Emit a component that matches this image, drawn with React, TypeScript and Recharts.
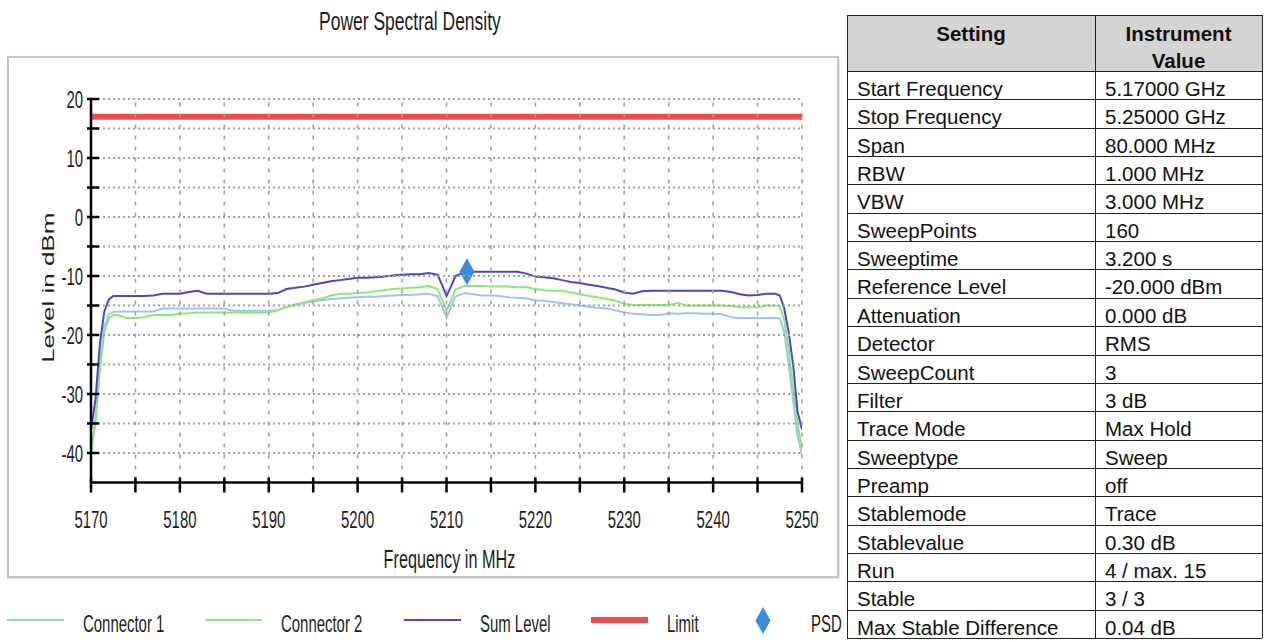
import {
  ComposedChart,
  Label,
  Legend,
  Line,
  Scatter,
  XAxis,
  YAxis,
} from "recharts";

const freqs = [
  5170, 5170.5, 5171, 5171.5, 5172, 5172.5,
  5173, 5174, 5175, 5176, 5177, 5178, 5179, 5180, 5181, 5182,
  5183, 5184, 5185, 5186, 5187, 5188, 5189, 5190, 5191, 5192,
  5193, 5194, 5195, 5196, 5197, 5198, 5199, 5200, 5201, 5202,
  5203, 5204, 5205, 5206, 5207, 5208, 5209,
  5209.5, 5210, 5210.5,
  5211, 5212, 5213, 5214, 5215, 5216, 5217, 5218, 5219, 5220,
  5221, 5222, 5223, 5224, 5225, 5226, 5227, 5228, 5229, 5230,
  5231, 5232, 5233, 5234, 5235, 5236, 5237, 5238, 5239, 5240,
  5241, 5242, 5243, 5244, 5245, 5246, 5247,
  5247.5, 5248, 5248.5, 5249, 5249.5, 5250,
];

const connector1 = [
  -40.3, -34, -25, -18.5, -16.5, -16.1,
  -16.0, -16.0, -16.0, -16.0, -16.0, -15.5, -15.5, -15.5, -15.5, -15.5,
  -15.5, -15.5, -15.5, -15.9, -15.9, -15.9, -15.9, -15.9, -15.8, -15.3,
  -14.9, -14.6, -14.3, -14.1, -13.9, -13.8, -13.7, -13.6, -13.5, -13.5,
  -13.4, -13.3, -13.2, -13.2, -13.1, -13.0, -13.4,
  -15.2, -17.1, -15.3,
  -13.5, -12.9, -13.1, -13.3, -13.3, -13.4, -13.6, -13.7, -13.8, -14.1,
  -14.2, -14.4, -14.6, -14.8, -15.0, -15.2, -15.4, -15.5, -15.8, -16.2,
  -16.4, -16.5, -16.6, -16.6, -16.3, -16.4, -16.3, -16.3, -16.4, -16.4,
  -16.5, -17.0, -17.1, -17.1, -17.1, -17.1, -17.1,
  -17.2, -19.5, -25, -31, -37, -40.5,
];

const connector2 = [
  -39.7, -35, -26, -19.5, -17.3, -16.6,
  -16.6, -17.1, -17.1, -17.0, -16.6, -16.6, -16.6, -16.4, -16.3, -16.2,
  -16.2, -16.2, -16.2, -16.2, -16.2, -16.2, -16.2, -16.2, -15.8, -15.2,
  -14.8, -14.5, -14.1, -13.8, -13.3, -13.0, -13.0, -12.9, -12.8, -12.6,
  -12.4, -12.2, -12.1, -12.0, -11.9, -11.7, -12.2,
  -14.0, -15.9, -14.2,
  -12.3, -11.7, -11.7, -11.7, -11.8, -11.8, -11.8, -11.9, -11.9, -12.2,
  -12.4, -12.5, -12.5, -12.8, -13.1, -13.4, -13.6, -13.9, -14.2, -14.7,
  -14.9, -14.9, -14.9, -14.9, -14.9, -14.6, -15.0, -15.0, -15.0, -15.0,
  -15.0, -15.1, -15.3, -15.3, -15.3, -15.0, -15.0,
  -15.1, -17.5, -22.5, -29, -35, -39.3,
];

const sumLevel = [
  -36, -31, -21.5, -16, -14, -13.4,
  -13.4, -13.4, -13.4, -13.4, -13.3, -13.0, -13.0, -13.0, -12.7, -12.5,
  -13.0, -13.0, -13.0, -13.0, -13.0, -13.0, -13.0, -13.0, -12.9, -12.2,
  -12.0, -11.8, -11.5, -11.2, -10.9, -10.7, -10.5, -10.3, -10.3, -10.2,
  -10.1, -9.9, -9.8, -9.7, -9.7, -9.5, -9.8,
  -11.5, -13.4, -11.8,
  -10.0, -9.4, -9.3, -9.3, -9.3, -9.3, -9.3, -9.3, -9.6, -10.1,
  -10.2, -10.4, -10.7, -11.0, -11.2, -11.5, -11.7, -12.0, -12.3, -12.8,
  -13.0, -12.6, -12.5, -12.5, -12.5, -12.5, -12.5, -12.5, -12.5, -12.5,
  -12.5, -12.7, -13.1, -13.3, -13.2, -13.0, -13.0,
  -13.3, -15.5, -19.5, -25, -33, -36,
];

const limitLevel = 17;
const psdMarkers = [{ freq: 5212.3, psd: -9.3 }];

const xTicks = [
  5170, 5175, 5180, 5185, 5190, 5195, 5200, 5205, 5210, 5215, 5220, 5225,
  5230, 5235, 5240, 5245, 5250,
];
const yTicks = [-40, -35, -30, -25, -20, -15, -10, -5, 0, 5, 10, 15, 20];

const legendLabels = ["Connector 1", "Connector 2", "Sum Level", "Limit", "PSD"];

const settingNames = [
  "Start Frequency", "Stop Frequency", "Span", "RBW", "VBW", "SweepPoints",
  "Sweeptime", "Reference Level", "Attenuation", "Detector", "SweepCount",
  "Filter", "Trace Mode", "Sweeptype", "Preamp", "Stablemode", "Stablevalue",
  "Run", "Stable", "Max Stable Difference",
];
const settingValues = [
  "5.17000 GHz", "5.25000 GHz", "80.000 MHz", "1.000 MHz", "3.000 MHz", "160",
  "3.200 s", "-20.000 dBm", "0.000 dB", "RMS", "3", "3 dB", "Max Hold",
  "Sweep", "off", "Trace", "0.30 dB", "4 / max. 15", "3 / 3", "0.04 dB",
];

const colors = {
  conn1: "#9dc4ee",
  conn2: "#8ee57a",
  sum: "#4a46c6",
  limit: "#f04b4b",
  psd: "#3a8dd8",
  grid: "#a0a0a0",
};

const FONT = "'Liberation Sans', Arial, sans-serif";
const SQUEEZE = 0.65;

// chart box and plot area
const CHART_W = 840;
const CHART_H = 642;
const MARGIN = { top: 99, right: 38, bottom: 99.5, left: 31 };
const Y_AXIS_W = 60;
const X_AXIS_H = 60;
const PLOT_W = CHART_W - MARGIN.left - MARGIN.right - Y_AXIS_W;
const PLOT_H = CHART_H - MARGIN.top - MARGIN.bottom - X_AXIS_H;

const data = freqs.map((freq, i) => ({
  freq,
  conn1: connector1[i],
  conn2: connector2[i],
  sum: sumLevel[i],
  limit: limitLevel,
}));

function SqText({ x, y, size, anchor = "start", children }: any) {
  return (
    <text
      transform={`translate(${x},${y}) scale(${SQUEEZE},1)`}
      textAnchor={anchor}
      fontFamily={FONT}
      fontSize={size}
      fill="#1c1c1c"
    >
      {children}
    </text>
  );
}

// ticks also draw the grid line that belongs to them
const renderXTick = (props: any) => {
  const { x, y, payload } = props;
  return (
    <g>
      {payload.value !== xTicks[0] && (
        <path
          d={`M${x},${y - 2} V${y - PLOT_H}`}
          stroke={colors.grid}
          strokeWidth={1.6}
          strokeDasharray="4 7"
          fill="none"
        />
      )}
      <line x1={x} x2={x} y1={y - 5} y2={y + 10} stroke="#000" strokeWidth={2.5} />
      {payload.value % 10 === 0 && (
        <SqText x={x} y={y + 45} size={23} anchor="middle">
          {payload.value}
        </SqText>
      )}
    </g>
  );
};

const renderYTick = (props: any) => {
  const { x, y, payload } = props;
  return (
    <g>
      <path
        d={`M${x + 2},${y} H${x + PLOT_W}`}
        stroke={colors.grid}
        strokeWidth={2}
        strokeDasharray="2 3"
        fill="none"
      />
      <line x1={x - 4} x2={x + 8} y1={y} y2={y} stroke="#000" strokeWidth={2.5} />
      {payload.value % 10 === 0 && (
        <SqText x={x - 8} y={y + 8.5} size={23} anchor="end">
          {payload.value}
        </SqText>
      )}
    </g>
  );
};

const renderXLabel = (props: any) => {
  const { viewBox } = props;
  return (
    <SqText x={viewBox.x + viewBox.width / 2 + 3} y={viewBox.y + 85} size={25} anchor="middle">
      Frequency in MHz
    </SqText>
  );
};

const renderYLabel = (props: any) => {
  const { viewBox } = props;
  const cy = viewBox.y + viewBox.height / 2 - 3;
  return (
    <text
      transform={`translate(${viewBox.x + 23},${cy}) scale(${SQUEEZE},1) rotate(-90)`}
      textAnchor="middle"
      fontFamily={FONT}
      fontSize={26}
      fill="#1c1c1c"
    >
      Level in dBm
    </text>
  );
};

const renderDiamond = (props: any) => {
  const { cx, cy } = props;
  if (cx === undefined || cy === undefined) return null;
  return (
    <path
      d={`M${cx},${cy - 13.5} L${cx + 7.5},${cy} L${cx},${cy + 13.5} L${cx - 7.5},${cy} Z`}
      fill={colors.psd}
    />
  );
};

const legendIcons = [
  { kind: "line", color: colors.conn1, width: 2 },
  { kind: "line", color: colors.conn2, width: 2 },
  { kind: "line", color: colors.sum, width: 2 },
  { kind: "line", color: colors.limit, width: 6 },
  { kind: "diamond", color: colors.psd, width: 0 },
];
const legendSlots = [7, 205, 404, 591, 735];

const renderLegend = () => (
  <svg width={860} height={42} style={{ overflow: "visible" }}>
    {legendLabels.map((label, i) => {
      const left = legendSlots[i];
      const icon = legendIcons[i];
      return (
        <g key={label}>
          {icon.kind === "line" ? (
            <line x1={left} x2={left + 57} y1={20} y2={20} stroke={icon.color} strokeWidth={icon.width} />
          ) : (
            <path
              d={`M${left + 28},${7} L${left + 35.5},${20.5} L${left + 28},${34} L${left + 20.5},${20.5} Z`}
              fill={icon.color}
            />
          )}
          <SqText x={left + 76} y={32} size={23}>
            {label}
          </SqText>
        </g>
      );
    })}
  </svg>
);

const ROW_H = 28.35;
const TABLE_TOP = 15;
const HEADER_H = 56;
const COL1_W = 248;
const COL2_W = 167;

function SettingsTable() {
  const cellText: React.CSSProperties = {
    position: "absolute",
    fontFamily: FONT,
    fontSize: 20.5,
    lineHeight: "36px",
    color: "#111",
    whiteSpace: "nowrap",
  };
  const line = "1.5px solid #222";
  const fullH = HEADER_H + ROW_H * settingNames.length;
  return (
    <div
      style={{
        position: "absolute",
        left: 847,
        top: TABLE_TOP,
        width: COL1_W + COL2_W,
        height: fullH,
      }}
    >
      <div
        style={{
          position: "absolute",
          left: 0,
          top: 0,
          width: COL1_W + COL2_W,
          height: HEADER_H,
          background: "#d4d4d4",
        }}
      />
      <div style={{ ...cellText, left: 0, width: COL1_W, top: 6, textAlign: "center", fontWeight: "bold", lineHeight: "26px" }}>
        Setting
      </div>
      <div style={{ ...cellText, left: COL1_W, width: COL2_W, top: 5, textAlign: "center", fontWeight: "bold", lineHeight: "27px" }}>
        Instrument
        <br />
        Value
      </div>
      {settingNames.map((name, i) => {
        const top = HEADER_H + i * ROW_H;
        return (
          <div key={name}>
            <div style={{ position: "absolute", left: 0, top, width: COL1_W + COL2_W, borderTop: line }} />
            <div style={{ ...cellText, left: 10, top }}>{name}</div>
            <div style={{ ...cellText, left: COL1_W + 10, top }}>{settingValues[i]}</div>
          </div>
        );
      })}
      <div style={{ position: "absolute", left: 0, top: 0, width: COL1_W + COL2_W, borderTop: line }} />
      <div style={{ position: "absolute", left: 0, top: fullH, width: COL1_W + COL2_W, borderTop: line }} />
      <div style={{ position: "absolute", left: 0, top: 0, height: fullH, borderLeft: line }} />
      <div style={{ position: "absolute", left: COL1_W, top: 0, height: fullH, borderLeft: line }} />
      <div style={{ position: "absolute", left: COL1_W + COL2_W, top: 0, height: fullH, borderLeft: line }} />
    </div>
  );
}

export default function App() {
  return (
    <div
      style={{
        position: "absolute",
        left: 0,
        top: 0,
        width: 1265,
        height: 642,
        background: "#fff",
        overflow: "hidden",
      }}
    >
      <div
        style={{
          position: "absolute",
          left: 0,
          top: 7,
          width: 820,
          textAlign: "center",
          fontFamily: FONT,
          fontSize: 25,
          color: "#1c1c1c",
        }}
      >
        <span style={{ display: "inline-block", transform: "scaleX(0.7)" }}>
          Power Spectral Density
        </span>
      </div>
      <div
        style={{
          position: "absolute",
          left: 7,
          top: 56,
          width: 832,
          height: 522,
          border: "2px solid #c6c6c6",
          boxSizing: "border-box",
          boxShadow: "1px 1px 2px rgba(0,0,0,0.12)",
        }}
      />
      <div style={{ position: "absolute", left: 0, top: 0 }}>
        <ComposedChart width={CHART_W} height={CHART_H} data={data} margin={MARGIN}>
          <XAxis
            dataKey="freq"
            type="number"
            domain={[5170, 5250]}
            ticks={xTicks}
            interval={0}
            height={X_AXIS_H}
            axisLine={{ stroke: "#000", strokeWidth: 2.5 }}
            tickLine={false}
            tickSize={0}
            tickMargin={0}
            tick={renderXTick}
            allowDataOverflow
          >
            <Label content={renderXLabel} />
          </XAxis>
          <YAxis
            type="number"
            domain={[-45, 20]}
            ticks={yTicks}
            interval={0}
            width={Y_AXIS_W}
            axisLine={{ stroke: "#000", strokeWidth: 2.5 }}
            tickLine={false}
            tickSize={0}
            tickMargin={0}
            tick={renderYTick}
            allowDataOverflow
          >
            <Label content={renderYLabel} />
          </YAxis>
          <Line type="linear" dataKey="conn1" stroke={colors.conn1} strokeWidth={2} dot={false} isAnimationActive={false} />
          <Line type="linear" dataKey="conn2" stroke={colors.conn2} strokeWidth={2} dot={false} isAnimationActive={false} />
          <Line type="linear" dataKey="sum" stroke={colors.sum} strokeWidth={2} dot={false} isAnimationActive={false} />
          <Line type="linear" dataKey="limit" stroke={colors.limit} strokeWidth={6} dot={false} isAnimationActive={false} />
          <Scatter data={psdMarkers} dataKey="psd" shape={renderDiamond} isAnimationActive={false} />
          <Legend
            verticalAlign="middle"
            align="center"
            layout="horizontal"
            content={renderLegend}
            wrapperStyle={{ left: 0, top: 600, width: 860, height: 42 }}
          />
        </ComposedChart>
      </div>
      <SettingsTable />
    </div>
  );
}
